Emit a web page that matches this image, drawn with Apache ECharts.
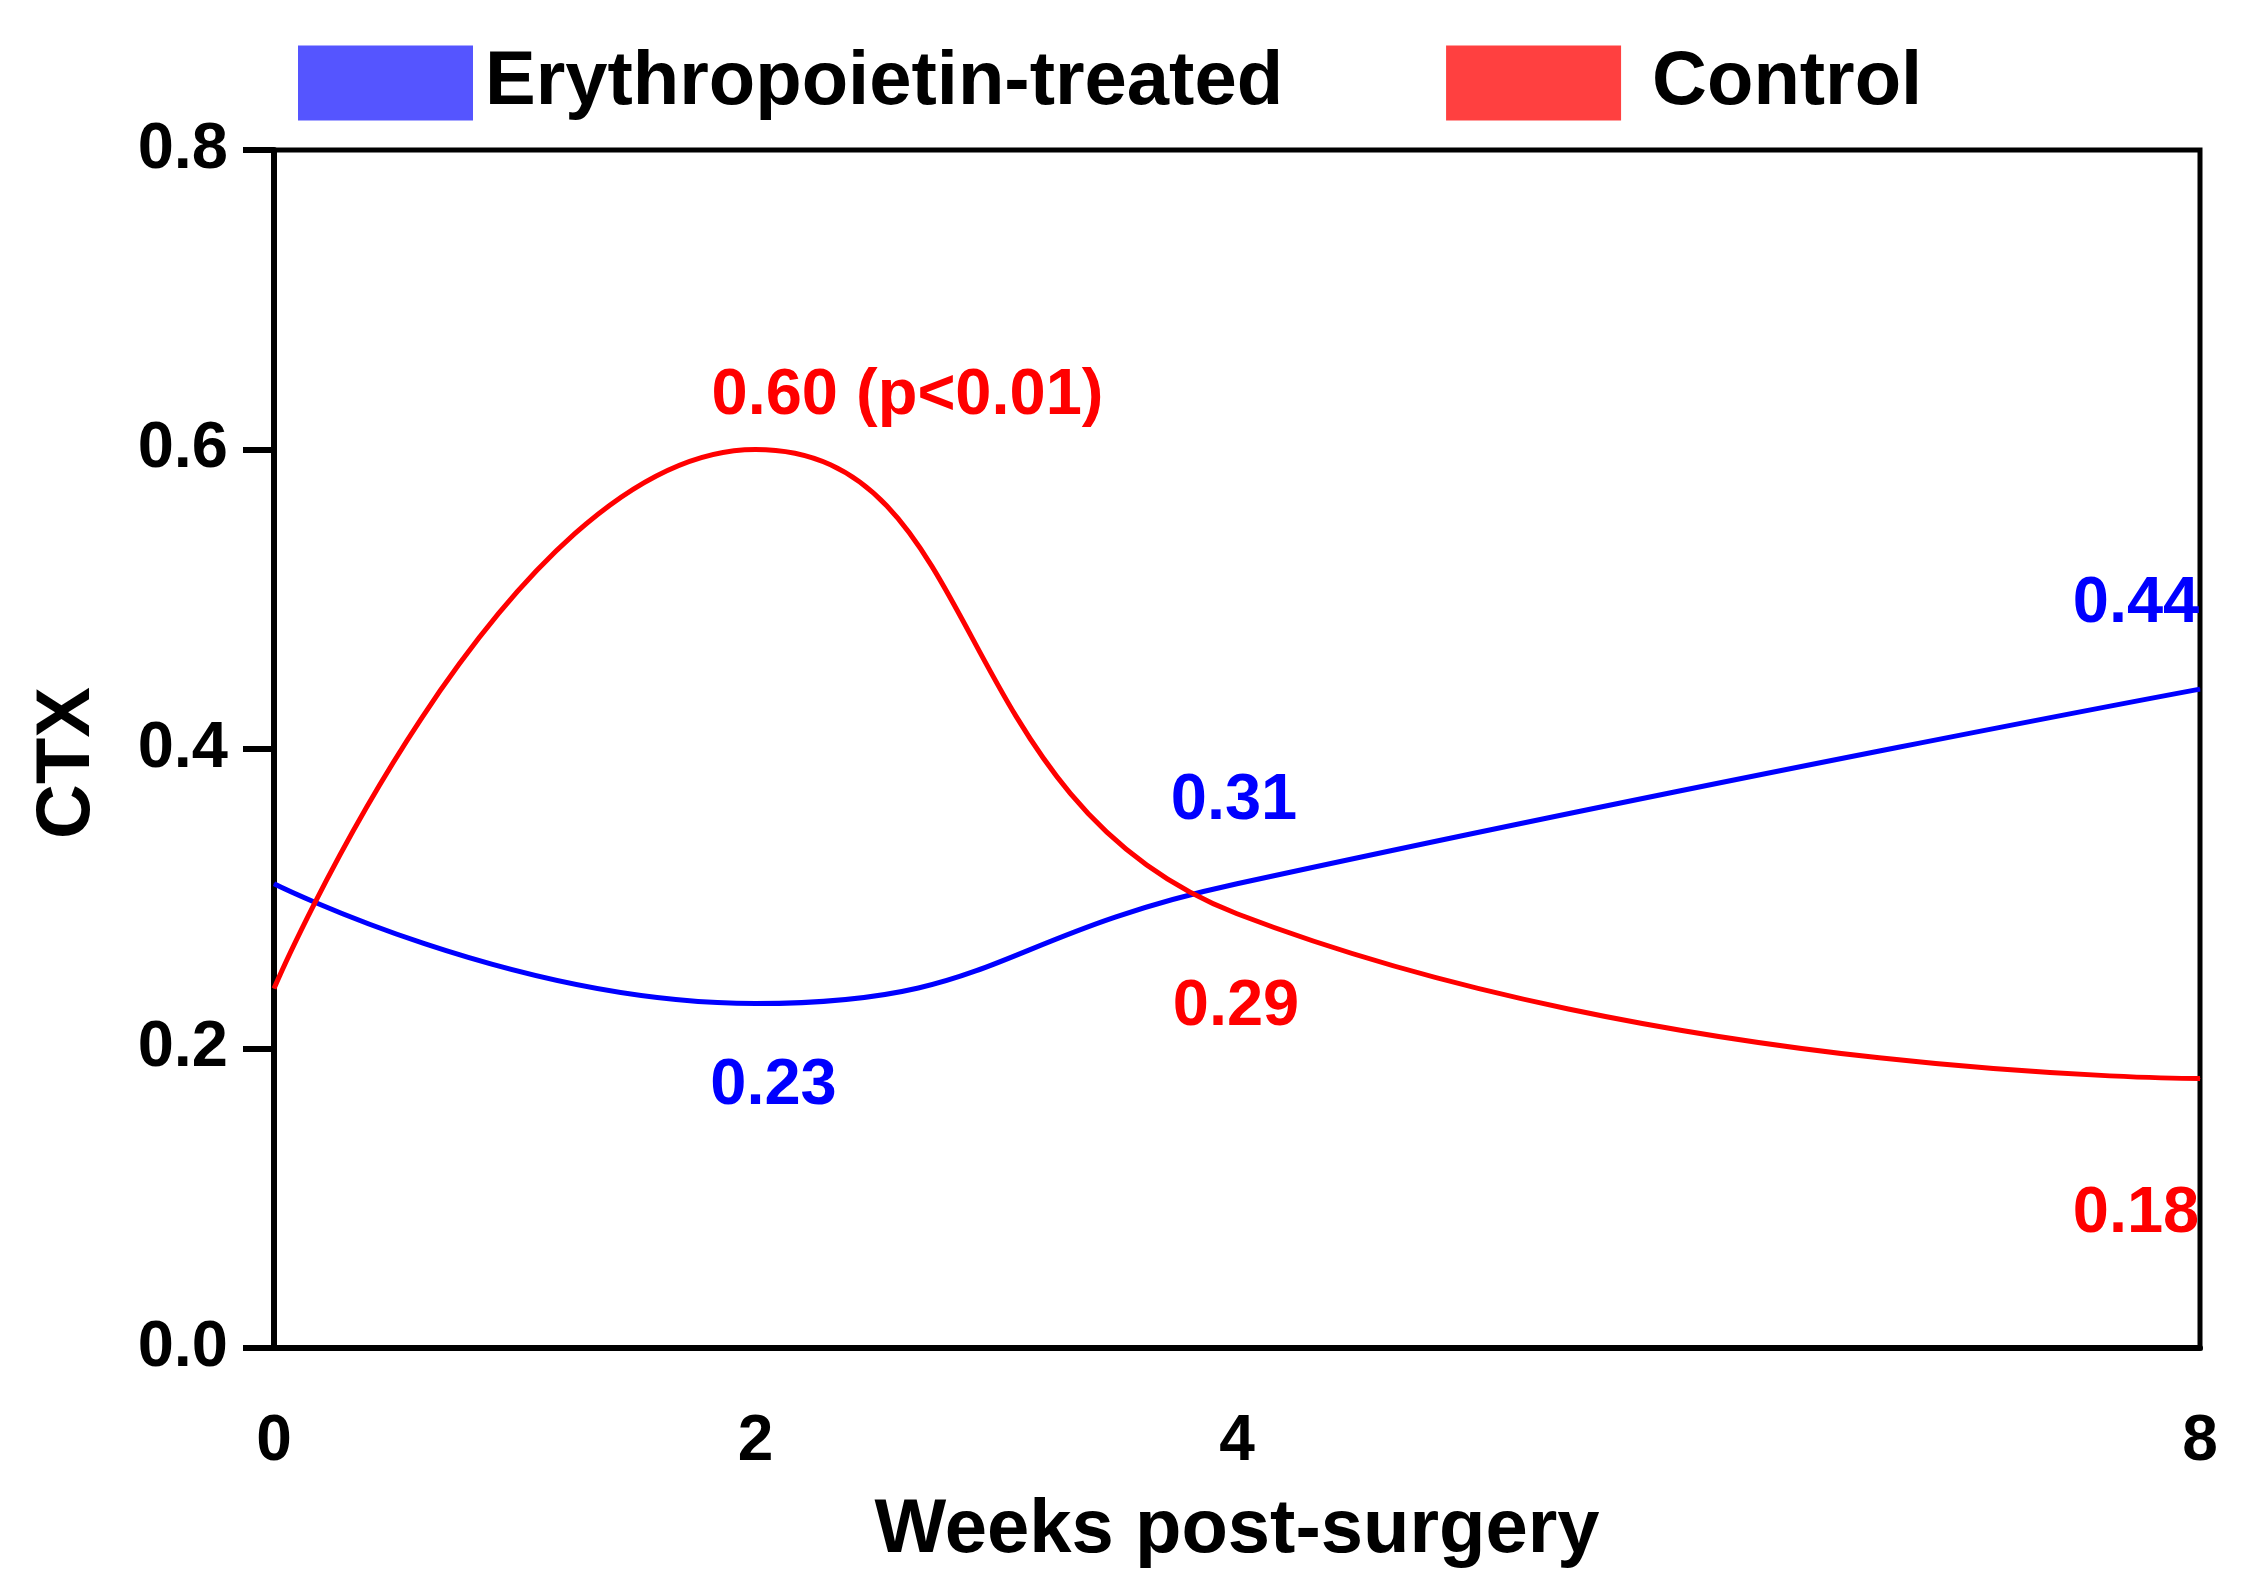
<!DOCTYPE html>
<html>
<head>
<meta charset="utf-8">
<script src="https://cdn.jsdelivr.net/npm/echarts@6/dist/echarts.min.js"></script>
<style>
html,body{margin:0;padding:0;background:#fff;}
#chart{width:2258px;height:1595px;}
</style>
</head>
<body>
<div id="chart"></div>
<script>
// ---- data ----
const weeks = [0, 2, 4, 8];
const xTickLabels = [0, 2, 4, 8];
const seriesNames = ['Erythropoietin-treated', 'Control'];
const epoValues = [0.31, 0.23, 0.31, 0.44];
const controlValues = [0.24, 0.60, 0.29, 0.18];
const epoLabels = [null, '0.23', '0.31', '0.44'];
const controlLabels = [null, '0.60 (p<0.01)', '0.29', '0.18'];

// ---- styling (label offsets relative to point) ----
const epoLabelOffsets = [null, [18, 83], [-3, -83], [-64, -85]];
const controlLabelOffsets = [null, [152, -53], [-1, 93], [-64, 136]];

const FONT = '"Liberation Sans", Arial, Helvetica, sans-serif';
const lineBlue = '#0000ff', lineRed = '#ff0000';
const legendBlue = '#5555ff', legendRed = '#ff4040';

function buildData(values, labels, offsets, color) {
  return weeks.map((w, i) => {
    const item = { value: [w, values[i]] };
    if (labels[i]) {
      item.label = {
        show: true, position: 'inside', formatter: labels[i],
        offset: offsets[i], color: color, fontSize: 65, fontWeight: 'bold', fontFamily: FONT
      };
    } else {
      item.label = { show: false };
    }
    return item;
  });
}

const chart = echarts.init(document.getElementById('chart'));
chart.setOption({
  animation: false,
  backgroundColor: '#fff',
  legend: {
    left: 293, top: 40,
    itemWidth: 175, itemHeight: 75, itemGap: 163,
    icon: 'rect',
    textStyle: { fontSize: 76, fontWeight: 'bold', color: '#000', fontFamily: FONT, padding: [0, 0, 0, 7] },
    data: [
      { name: seriesNames[0], itemStyle: { color: legendBlue } },
      { name: seriesNames[1], itemStyle: { color: legendRed }, textStyle: { padding: [0, 0, 0, 26] } }
    ]
  },
  grid: {
    left: 274, right: 58, top: 150, bottom: 247,
    show: true, borderColor: '#000', borderWidth: 5, backgroundColor: 'transparent'
  },
  xAxis: {
    type: 'value', min: 0, max: 8,
    name: 'Weeks post-surgery', nameLocation: 'middle', nameGap: 145,
    nameTextStyle: { fontSize: 76, fontWeight: 'bold', color: '#000', fontFamily: FONT },
    axisLine: { show: true, lineStyle: { color: '#000', width: 6 } },
    axisTick: { show: false },
    splitLine: { show: false },
    axisLabel: {
      customValues: xTickLabels, margin: 62,
      fontSize: 64, fontWeight: 'bold', color: '#000', fontFamily: FONT
    }
  },
  yAxis: {
    type: 'value', min: 0, max: 0.8, interval: 0.2,
    name: 'CTX', nameLocation: 'middle', nameGap: 168,
    nameTextStyle: { fontSize: 76, fontWeight: 'bold', color: '#000', fontFamily: FONT, padding: [0, 28, 0, 0] },
    axisLine: { show: true, lineStyle: { color: '#000', width: 6 } },
    axisTick: { show: true, inside: false, length: 31, lineStyle: { color: '#000', width: 6 } },
    splitLine: { show: false },
    axisLabel: {
      margin: 46, fontSize: 65, fontWeight: 'bold', color: '#000', fontFamily: FONT,
      formatter: v => v.toFixed(1)
    }
  },
  series: [
    {
      name: seriesNames[0], type: 'line', smooth: 0.5,
      symbol: 'circle', symbolSize: 1,
      itemStyle: { color: lineBlue },
      lineStyle: { color: lineBlue, width: 5 },
      data: buildData(epoValues, epoLabels, epoLabelOffsets, lineBlue)
    },
    {
      name: seriesNames[1], type: 'line', smooth: 0.5,
      symbol: 'circle', symbolSize: 1,
      itemStyle: { color: lineRed },
      lineStyle: { color: lineRed, width: 5 },
      data: buildData(controlValues, controlLabels, controlLabelOffsets, lineRed)
    }
  ]
});
</script>
</body>
</html>
